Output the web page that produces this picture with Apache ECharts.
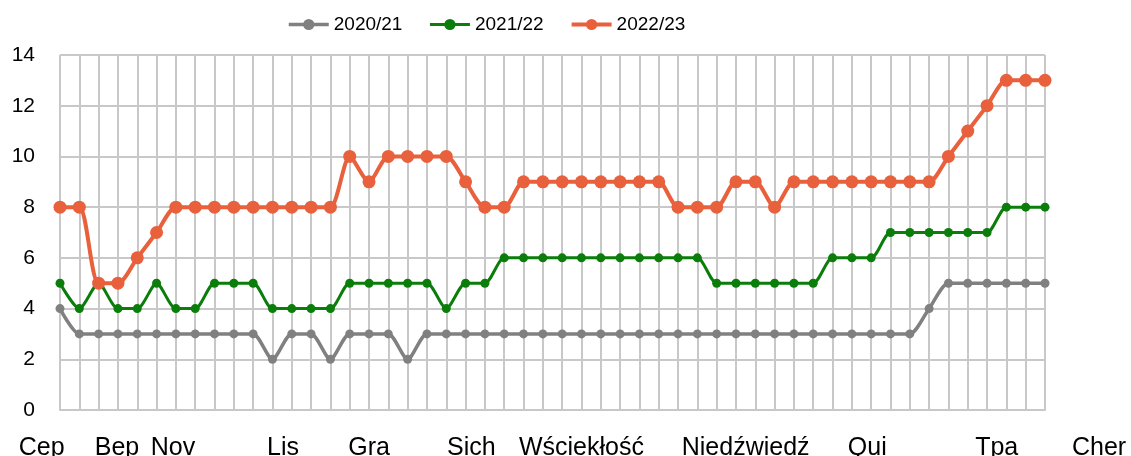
<!DOCTYPE html>
<html>
<head>
<meta charset="utf-8">
<script src="https://cdn.jsdelivr.net/npm/echarts@6/dist/echarts.min.js"></script>
<style>
  html, body { margin: 0; padding: 0; background: #fff; }
  #chart { width: 1131px; height: 456px; }
</style>
</head>
<body>
<div id="chart"></div>
<script>
// 52 tygodnie sezonu
const weeks = [];
for (let i = 1; i <= 52; i++) weeks.push('T' + i);

const s2021 = [4, 3, 3, 3, 3, 3, 3, 3, 3, 3, 3, 2, 3, 3, 2, 3, 3, 3, 2, 3,
               3, 3, 3, 3, 3, 3, 3, 3, 3, 3, 3, 3, 3, 3, 3, 3, 3, 3, 3, 3,
               3, 3, 3, 3, 3, 4, 5, 5, 5, 5, 5, 5];
const s2122 = [5, 4, 5, 4, 4, 5, 4, 4, 5, 5, 5, 4, 4, 4, 4, 5, 5, 5, 5, 5,
               4, 5, 5, 6, 6, 6, 6, 6, 6, 6, 6, 6, 6, 6, 5, 5, 5, 5, 5, 5,
               6, 6, 6, 7, 7, 7, 7, 7, 7, 8, 8, 8];
const s2223 = [8, 8, 5, 5, 6, 7, 8, 8, 8, 8, 8, 8, 8, 8, 8, 10, 9, 10, 10, 10,
               10, 9, 8, 8, 9, 9, 9, 9, 9, 9, 9, 9, 8, 8, 8, 9, 9, 8, 9, 9,
               9, 9, 9, 9, 9, 9, 10, 11, 12, 13, 13, 13];

// podpisy miesięcy i tydzień, przy którym stoją
const monthNames = ['Cep', 'Bep', 'Nov', 'Lis', 'Gra', 'Sich', 'Wściekłość', 'Niedźwiedź', 'Qui', 'Tpa', 'Cher'];
const monthWeek = [-0.95, 2.95, 5.85, 11.55, 16.0, 21.3, 27.0, 35.5, 41.8, 48.5, 53.8];

const W = 1131, gl = 60, gr = 86, gt = 55, gb = 46;
const step = (W - gl - gr) / (weeks.length - 1);
const font = 'Liberation Sans, Arial, sans-serif';
const gridCol = '#c8c8c8';

const chart = echarts.init(document.getElementById('chart'));
chart.setOption({
    animation: false,
    legend: {
        left: 282, top: 10,
        itemWidth: 40, itemHeight: 14, itemGap: 26,
        textStyle: { fontFamily: font, fontSize: 19, color: '#000' },
        data: [
            { name: '2020/21', lineStyle: { width: 3.5 } },
            { name: '2021/22', lineStyle: { width: 3 } },
            { name: '2022/23', lineStyle: { width: 4 } }
        ]
    },
    grid: [
        { left: gl, right: gr, top: gt, bottom: gb, outerBoundsMode: 'none' },
        { left: 0, right: 0, top: gt, bottom: gb, outerBoundsMode: 'none' }
    ],
    xAxis: [
        {
            type: 'category', data: weeks, boundaryGap: false,
            axisLine: { show: true, lineStyle: { color: gridCol, width: 2 } },
            axisTick: { show: false },
            axisLabel: { show: false, interval: 0 },
            splitLine: { show: true, interval: 0, lineStyle: { color: gridCol, width: 2 } }
        },
        {
            // oś tylko z podpisami miesięcy
            type: 'value', gridIndex: 1,
            min: -gl / step, max: (weeks.length - 1) + gr / step,
            axisLine: { show: false }, axisTick: { show: false }, splitLine: { show: false },
            axisLabel: {
                customValues: monthWeek,
                margin: 26,
                fontFamily: font, fontSize: 25, color: '#000',
                formatter: function (v) {
                    let best = 0;
                    monthWeek.forEach((m, i) => { if (Math.abs(m - v) < Math.abs(monthWeek[best] - v)) best = i; });
                    return monthNames[best];
                }
            }
        }
    ],
    yAxis: [
        {
            type: 'value', min: 0, max: 14, interval: 2,
            axisLine: { show: false }, axisTick: { show: false },
            axisLabel: { fontFamily: font, fontSize: 21, color: '#000', margin: 25 },
            splitLine: { lineStyle: { color: gridCol, width: 2 } }
        },
        { type: 'value', gridIndex: 1, show: false, min: 0, max: 14 }
    ],
    series: [
        {
            name: '2020/21', type: 'line', data: s2021,
            smooth: 0.25, showAllSymbol: true,
            symbol: 'circle', symbolSize: 9,
            lineStyle: { color: '#808080', width: 3.5 },
            itemStyle: { color: '#808080' }
        },
        {
            name: '2021/22', type: 'line', data: s2122,
            smooth: 0.25, showAllSymbol: true,
            symbol: 'circle', symbolSize: 9,
            lineStyle: { color: '#0a7d0a', width: 3 },
            itemStyle: { color: '#0a7d0a' }
        },
        {
            name: '2022/23', type: 'line', data: s2223,
            smooth: 0.25, showAllSymbol: true,
            symbol: 'circle', symbolSize: 13,
            lineStyle: { color: '#e8603c', width: 4 },
            itemStyle: { color: '#e8603c' }
        }
    ]
});
</script>
</body>
</html>
